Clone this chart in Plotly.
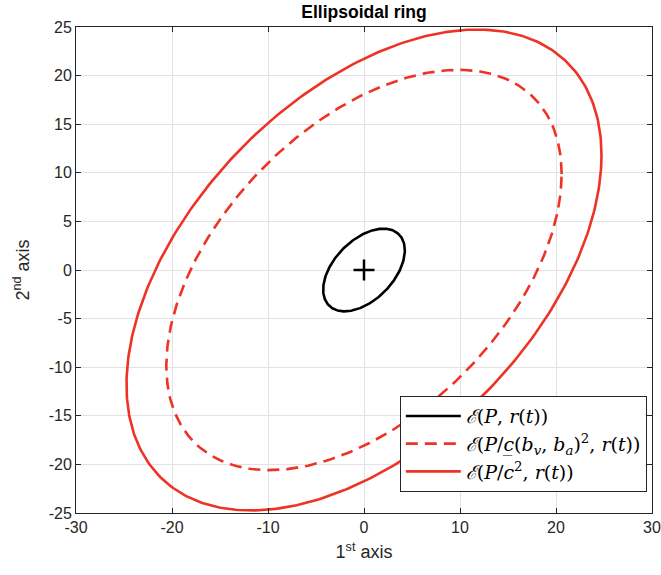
import numpy as np
import plotly.graph_objects as go

# Ellipse shape matrices (centre at origin)
center = [0.0, 0.0]
Q_inner = [[18.1, 8.6], [8.6, 18.1]]
Q_dashed = [[424.0, 203.0], [203.0, 424.0]]
Q_outer = [[612.0, 292.0], [292.0, 612.0]]

labels = [
    "<i>ℰ</i>(<i>P</i>, <i>r</i>(<i>t</i>))",
    "<i>ℰ</i>(<i>P</i>/<i>c̲</i>(<i>b<sub>v</sub></i>, <i>b<sub>a</sub></i>)<sup>2</sup>, <i>r</i>(<i>t</i>))",
    "<i>ℰ</i>(<i>P</i>/<i>c</i><sup>2</sup>, <i>r</i>(<i>t</i>))",
]

x_ticks = [-30, -20, -10, 0, 10, 20, 30]
x_ticktext = ["-30", "-20", "-10", "0", "10", "20", "30"]
y_ticks = [-25, -20, -15, -10, -5, 0, 5, 10, 15, 20, 25]
y_ticktext = ["-25", "-20", "-15", "-10", "-5", "0", "5", "10", "15", "20", "25"]

RED = "#EE3326"
SANS = "Liberation Sans, Arial, Helvetica"


def ellipse(Q, c, n=400):
    L = np.linalg.cholesky(np.array(Q))
    t = np.linspace(0, 2 * np.pi, n)
    pts = L @ np.vstack([np.cos(t), np.sin(t)])
    return pts[0] + c[0], pts[1] + c[1]


fig = go.Figure()
specs = [
    (Q_inner, dict(color="black", width=2.6, dash="solid")),
    (Q_dashed, dict(color=RED, width=2.6, dash="12px,7px")),
    (Q_outer, dict(color=RED, width=2.6, dash="solid")),
]
for (Q, ln), lab in zip(specs, labels):
    x, y = ellipse(Q, center)
    fig.add_trace(go.Scatter(x=x, y=y, mode="lines", line=ln, name=lab))

fig.add_trace(go.Scatter(
    x=[center[0]], y=[center[1]], mode="markers", showlegend=False,
    marker=dict(symbol="cross-thin", size=15, line=dict(color="black", width=2.5)),
))

axis_common = dict(
    showgrid=True, gridcolor="#E3E3E3", gridwidth=1, automargin=False,
    zeroline=False, showline=True, linecolor="#262626", linewidth=1,
    mirror="ticks", ticks="inside", ticklen=5, tickcolor="#262626",
    tickfont=dict(family=SANS, size=16, color="#262626"),
)

fig.update_layout(
    width=661, height=575,
    margin=dict(l=76, r=9, t=27, b=62),
    paper_bgcolor="white", plot_bgcolor="white",
    title=dict(text="<b>Ellipsoidal ring</b>", x=0.5, xanchor="center",
               xref="paper", y=1 - 12 / 575, yanchor="middle",
               font=dict(family=SANS, size=17.5, color="black")),
    xaxis=dict(range=[-30, 30], tickvals=x_ticks, ticktext=x_ticktext, **axis_common,
               title=dict(text="1<sup>st</sup> axis", standoff=10,
                          font=dict(family=SANS, size=18, color="#262626"))),
    yaxis=dict(range=[-25, 25], tickvals=y_ticks, ticktext=y_ticktext, **axis_common,
               title=dict(text="2<sup>nd</sup> axis", standoff=14,
                          font=dict(family=SANS, size=18, color="#262626"))),
    legend=dict(
        x=0.991, y=0.043, xanchor="right", yanchor="bottom",
        bgcolor="white", bordercolor="#262626", borderwidth=1,
        font=dict(family="DejaVu Serif, Liberation Serif, serif", size=19, color="black"),
        itemwidth=55, tracegroupgap=0,
    ),
)

fig.write_html("out.html", config={"displayModeBar": False},
               post_script="document.body.style.margin='0';")
